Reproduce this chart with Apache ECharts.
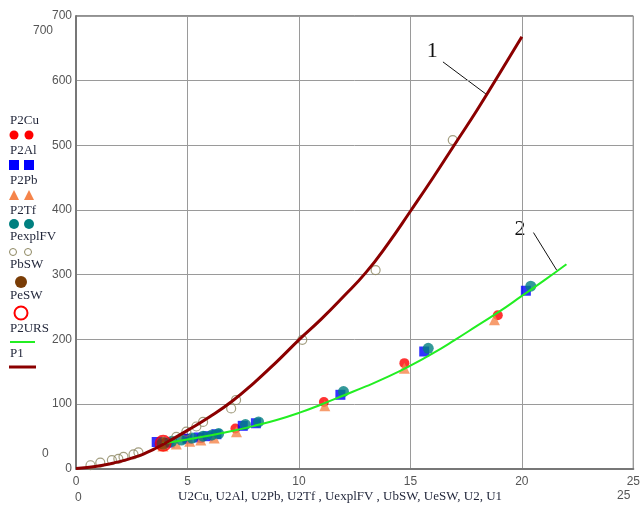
<!DOCTYPE html>
<html>
<head>
<meta charset="utf-8">
<script src="https://cdn.jsdelivr.net/npm/echarts@6/dist/echarts.min.js"></script>
<style>
  html, body { margin: 0; padding: 0; background: #fff; }
  #chart { width: 643px; height: 506px; }
</style>
</head>
<body>
<div id="chart"></div>
<script>
// Power P versus voltage U: measured points and two model curves
const xTicks = [0, 5, 10, 15, 20, 25];
const yTicks = [0, 100, 200, 300, 400, 500, 600, 700];

// measured sets [U, P]
const P2Cu = [[3.75, 37], [4.0, 40], [4.95, 46], [5.6, 47], [7.15, 62], [11.12, 103], [14.73, 163], [18.92, 237]];
const P2Al = [[3.62, 41], [4.2, 40], [5.0, 46], [5.5, 48], [5.9, 50], [6.3, 53], [7.48, 66], [8.07, 70], [11.86, 114], [15.62, 181], [20.18, 275]];
const P2Pb = [[3.9, 35], [4.5, 38], [5.1, 42], [5.6, 44], [6.2, 47], [7.2, 57], [11.16, 97], [14.73, 155], [18.77, 230]];
const P2Tf = [[4.3, 42], [4.73, 44], [5.2, 47], [5.7, 50], [6.1, 52], [6.4, 54], [7.6, 68], [8.19, 72], [12.0, 119], [15.8, 186], [20.4, 282]];
const PexplFV = [[0.65, 5], [1.09, 9], [1.61, 13], [1.9, 15], [2.13, 18], [2.58, 22], [2.8, 25], [4.5, 49], [4.95, 57], [5.4, 65], [5.7, 72], [6.96, 93], [7.18, 106], [10.15, 199], [13.44, 307], [16.9, 508]];
const PbSW = [[3.91, 39]];
const PeSW = [[3.91, 39]];

// model curves
const uURS = [3.9, 5, 6, 7, 8, 9, 10, 11, 12, 13, 14, 15, 16, 17, 18, 19, 20, 21, 22];
const pURS = [39, 45, 51, 58, 66, 75, 86, 99, 113, 127, 142, 159, 178, 199, 221, 243, 267, 291, 316];
const u1 = [0, 0.5, 1, 1.5, 2, 2.5, 3, 3.5, 4, 5, 6, 7, 8, 9, 10, 11, 12, 13, 14, 15, 16, 17, 18, 19, 20];
const p1 = [0, 1.5, 4, 7, 11, 16, 22, 30, 39, 59, 80, 104, 133, 165, 199, 231, 266, 303, 348, 398, 449, 502, 555, 611, 668];

const zip = (a, b) => a.map((v, i) => [v, b[i]]);

const serif = '"Liberation Serif", "Times New Roman", serif';
const sans = '"Liberation Sans", Arial, sans-serif';
const textColor = '#1f2438';

const chart = echarts.init(document.getElementById('chart'), null, { renderer: 'canvas' });

const legendItems = [
  { name: 'P2Cu', y: 122 },
  { name: 'P2Al', y: 152 },
  { name: 'P2Pb', y: 182 },
  { name: 'P2Tf', y: 212 },
  { name: 'PexplFV', y: 238 },
  { name: 'PbSW', y: 266 },
  { name: 'PeSW', y: 297 },
  { name: 'P2URS', y: 330 },
  { name: 'P1', y: 355 }
];

const graphics = [];
legendItems.forEach(it => {
  graphics.push({ type: 'text', left: 10, top: it.y - 8, silent: true,
    style: { text: it.name, font: '13px ' + serif, fill: textColor } });
});
// legend keys
[14, 29].forEach(x => {
  graphics.push({ type: 'circle', shape: { cx: x, cy: 135, r: 4.5 }, style: { fill: '#ff0000' } });
  graphics.push({ type: 'rect', shape: { x: x - 5, y: 160, width: 10, height: 10 }, style: { fill: '#0000ff' } });
  graphics.push({ type: 'polygon', shape: { points: [[x, 190], [x - 5, 200], [x + 5, 200]] }, style: { fill: '#f5844a' } });
  graphics.push({ type: 'circle', shape: { cx: x, cy: 224, r: 5 }, style: { fill: '#008080' } });
  graphics.push({ type: 'circle', shape: { cx: x - 1, cy: 252, r: 3.5 }, style: { fill: 'none', stroke: '#8c8660', lineWidth: 1 } });
});
graphics.push({ type: 'circle', shape: { cx: 21, cy: 282, r: 6 }, style: { fill: '#7a3d06' } });
graphics.push({ type: 'circle', shape: { cx: 21, cy: 313, r: 6.5 }, style: { fill: 'none', stroke: '#ff0000', lineWidth: 2 } });
graphics.push({ type: 'line', shape: { x1: 10, y1: 342, x2: 35, y2: 342 }, style: { stroke: '#22ee22', lineWidth: 2 } });
graphics.push({ type: 'line', shape: { x1: 9, y1: 367, x2: 36, y2: 367 }, style: { stroke: '#8b0000', lineWidth: 3 } });

// axis range labels and axis title
graphics.push({ type: 'text', left: 33, top: 25, style: { text: '700', font: '12px ' + sans, fill: '#555' } });
graphics.push({ type: 'text', left: 42, top: 448, style: { text: '0', font: '12px ' + sans, fill: '#555' } });
graphics.push({ type: 'text', left: 75, top: 492, style: { text: '0', font: '12px ' + sans, fill: '#555' } });
graphics.push({ type: 'text', left: 617, top: 490, style: { text: '25', font: '12px ' + sans, fill: '#555' } });
graphics.push({ type: 'text', left: 178, top: 490, style: { text: 'U2Cu, U2Al, U2Pb, U2Tf , UexplFV , UbSW, UeSW, U2, U1', font: '13px ' + serif, fill: textColor } });

const scatter = (name, data, symbol, size, color, extra) => Object.assign({
  name, type: 'scatter', data, symbol, symbolSize: size,
  itemStyle: { color }, silent: true
}, extra || {});

chart.setOption({
  animation: false,
  grid: { left: 76, right: 6, top: 16, bottom: 37.5, show: true, borderColor: '#222', borderWidth: 1, containLabel: false },
  xAxis: {
    type: 'value', min: 0, max: 25, interval: 5,
    axisLine: { show: true, onZero: false, lineStyle: { color: '#777', width: 2 } },
    axisTick: { show: false },
    splitLine: { show: true, lineStyle: { color: '#9a9a9a', width: 1 } },
    axisLabel: { margin: 7, fontFamily: sans, fontSize: 12, color: '#555',
      formatter: v => xTicks.includes(v) ? String(v) : '' }
  },
  yAxis: {
    type: 'value', min: 0, max: 700, interval: 100,
    axisLine: { show: true, onZero: false, lineStyle: { color: '#777', width: 2 } },
    axisTick: { show: false },
    splitLine: { show: true, lineStyle: { color: '#9a9a9a', width: 1 } },
    axisLabel: { margin: 4, fontFamily: sans, fontSize: 12, color: '#555',
      formatter: v => yTicks.includes(v) ? String(v) : '' }
  },
  graphic: graphics,
  series: [
    scatter('P2Cu', P2Cu, 'circle', 10, '#ff0000'),
    scatter('P2Al', P2Al, 'rect', 10, '#0000ff'),
    scatter('P2Pb', P2Pb, 'triangle', 11, '#f5844a'),
    scatter('P2Tf', P2Tf, 'circle', 11, '#008080'),
    scatter('PexplFV', PexplFV, 'circle', 9, 'rgba(0,0,0,0)',
      { itemStyle: { color: 'rgba(0,0,0,0)', borderColor: '#8c8660', borderWidth: 1.2 } }),
    scatter('PbSW', PbSW, 'circle', 13, '#7a3d06'),
    scatter('PeSW', PeSW, 'circle', 15, 'rgba(0,0,0,0)',
      { itemStyle: { color: 'rgba(0,0,0,0)', borderColor: '#ff0000', borderWidth: 2 } }),
    { name: 'P2URS', type: 'line', data: zip(uURS, pURS), smooth: true, showSymbol: false,
      lineStyle: { color: '#22ee22', width: 2 }, silent: true },
    { name: 'P1', type: 'line', data: zip(u1, p1), smooth: true, showSymbol: false,
      lineStyle: { color: '#8b0000', width: 3 }, silent: true }
  ]
});

// curve labels "1" and "2" with leader lines, placed in data coordinates
const px = (u, p) => chart.convertToPixel({ gridIndex: 0 }, [u, p]);
const notes = [
  { text: '1', at: [15.98, 645], from: [16.46, 629], to: [18.4, 579] },
  { text: '2', at: [19.92, 370], from: [20.52, 365], to: [21.56, 307] }
];
const extra = [];
notes.forEach(n => {
  const a = px(n.at[0], n.at[1]);
  const f = px(n.from[0], n.from[1]);
  const t = px(n.to[0], n.to[1]);
  extra.push({ type: 'text', x: a[0], y: a[1], silent: true,
    style: { text: n.text, font: '22px ' + serif, fill: '#111', align: 'center', verticalAlign: 'middle' } });
  extra.push({ type: 'line', silent: true, shape: { x1: f[0], y1: f[1], x2: t[0], y2: t[1] },
    style: { stroke: '#111', lineWidth: 1 } });
});
chart.setOption({ graphic: graphics.concat(extra) });
</script>
</body>
</html>
